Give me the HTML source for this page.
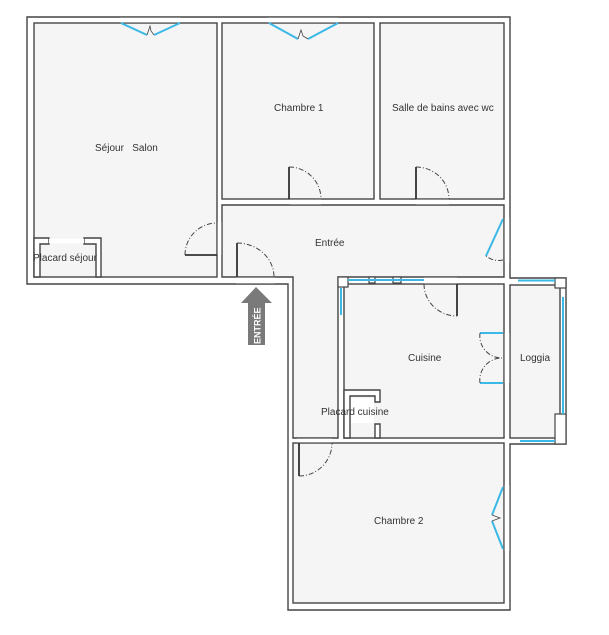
<!DOCTYPE html>
<html><head><meta charset="utf-8"><style>
body{margin:0;background:#fff;}
svg{display:block;}
text{font-family:"Liberation Sans",sans-serif;font-size:10px;fill:#333;}
</style></head><body>
<svg width="609" height="635" viewBox="0 0 609 635" xmlns="http://www.w3.org/2000/svg">
<g stroke="#444" stroke-width="1.4" fill="#fff">
<polygon points="27,17 510,17 510,278 566,278 566,444 510,444 510,610 288,610 288,284 27,284"/>
</g>
<g stroke="#444" stroke-width="1.4" fill="#f5f5f5">
<rect x="34" y="23" width="183" height="254"/>
<rect x="222" y="23" width="152" height="176"/>
<rect x="380" y="23" width="124" height="176"/>
<polygon points="222,205 504,205 504,277 338,277 338,438 293,438 293,277 222,277"/>
<rect x="344" y="284" width="160" height="154"/>
<rect x="510" y="285" width="50" height="153"/>
<rect x="293" y="443" width="211" height="160"/>
</g>
<g stroke="#444" stroke-width="1.4" fill="#fff">
<polygon points="34,238 49,238 49,244 40,244 40,277 34,277"/>
<polygon points="84,238 101,238 101,277 96,277 96,244 84,244"/>
<polygon points="344,390 380,390 380,402 375,402 375,396 350,396 350,438 344,438"/>
<polygon points="375,424 380,424 380,438 375,438"/>
</g>
<g fill="#fff" stroke="none">
<rect x="120" y="17.8" width="60" height="4.6"/>
<rect x="268" y="17.8" width="70" height="4.6"/>
<rect x="217.7" y="222" width="3.6" height="33"/>
<rect x="290" y="199.7" width="31" height="4.6"/>
<rect x="416" y="199.7" width="33" height="4.6"/>
<rect x="504.7" y="218" width="4.6" height="44"/>
<rect x="236" y="277.7" width="39" height="5.6"/>
<rect x="424" y="277.7" width="33" height="5.6"/>
<rect x="504.7" y="333" width="4.6" height="50"/>
<rect x="297" y="438.7" width="35" height="3.6"/>
<rect x="504.7" y="485" width="4.6" height="66"/>
<rect x="49" y="238.7" width="35" height="4.6"/>
<rect x="351" y="398" width="23" height="25"/>
</g>
<g stroke="#444" stroke-width="1.2" fill="#fff">
<rect x="338" y="277" width="10" height="10"/>
<rect x="369" y="277" width="6" height="6"/>
<rect x="393" y="277" width="8" height="6"/>
<rect x="555" y="278" width="11" height="10"/>
<rect x="555" y="414" width="11" height="30"/>
</g>
<g stroke="#3ab8e6" stroke-width="2" fill="none">
<line x1="348" y1="280" x2="424" y2="280"/>
<line x1="341" y1="288" x2="341" y2="315"/>
<line x1="518" y1="280.5" x2="555" y2="280.5"/>
<line x1="563" y1="297" x2="563" y2="414"/>
<line x1="520" y1="441" x2="555" y2="441"/>
<polyline points="121,23 147,35"/><polyline points="180,23 154,35"/>
<polyline points="269,23 298,39"/><polyline points="338,23 308,39"/>
<line x1="503" y1="219" x2="486" y2="256"/>
<line x1="480" y1="333" x2="503" y2="333"/>
<line x1="480" y1="383" x2="503" y2="383"/>
<line x1="503" y1="487" x2="492" y2="515"/>
<line x1="492" y1="521" x2="503" y2="549"/>
</g>
<g stroke="#444" stroke-width="0.8" fill="none">
<polyline points="147,35 150,26 151,31 154,35"/>
<polyline points="298,39 301,30 303,36 308,39"/>
<polyline points="492,515 500,518 492,521"/>
</g>
<g stroke="#333" stroke-width="1.8" fill="none">
<line x1="185" y1="255" x2="217" y2="255"/>
<line x1="237" y1="243" x2="237" y2="277"/>
<line x1="289" y1="167" x2="289" y2="199"/>
<line x1="416" y1="167" x2="416" y2="199"/>
<line x1="457" y1="284" x2="457" y2="316"/>
<line x1="299" y1="443" x2="299" y2="476"/>
</g>
<g stroke="#444" stroke-width="1" fill="none" stroke-dasharray="5,2,1,2">
<path d="M185,255 A32,32 0 0 1 217,223"/>
<path d="M237,243 A37,34 0 0 1 274,277"/>
<path d="M289,167 A32,32 0 0 1 321,199"/>
<path d="M416,167 A33,32 0 0 1 449,199"/>
<path d="M503,260 A20,20 0 0 1 486,256"/>
<path d="M424,284 A33,32 0 0 0 457,316"/>
<path d="M480,333 A22,22 0 0 0 502,358"/>
<path d="M480,383 A22,22 0 0 1 502,358"/>
<path d="M299,476 A33,33 0 0 0 332,443"/>
</g>
<polygon points="256,287 272,303 265,303 265,345 248,345 248,303 241,303" fill="#7a7a7a"/>
<text transform="translate(260.5,344) rotate(-90)" style="fill:#fff;font-weight:bold;font-size:9px">ENTRÉE</text>
<text x="95" y="151">Séjour&#160;&#160; Salon</text>
<text x="274" y="111">Chambre 1</text>
<text x="392" y="111">Salle de bains avec wc</text>
<text x="315" y="246">Entrée</text>
<text x="408" y="361">Cuisine</text>
<text x="520" y="361">Loggia</text>
<text x="321" y="415">Placard cuisine</text>
<text x="33" y="261">Placard séjour</text>
<text x="374" y="524">Chambre 2</text>
</svg>
</body></html>
